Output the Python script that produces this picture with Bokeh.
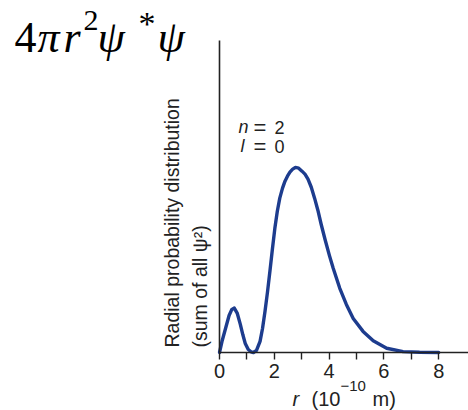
import math

from bokeh.core.properties import value
from bokeh.embed import file_html
from bokeh.models import ColumnDataSource, FixedTicker, LinearAxis, Range1d
from bokeh.plotting import figure
from bokeh.resources import INLINE

# Radial distance r (units of 1e-10 m) and relative radial probability (peak = 1)
r_values = [
    0.0, 0.1, 0.22, 0.35, 0.45, 0.54, 0.65, 0.76, 0.85, 0.94, 1.05, 1.15, 1.24,
    1.35, 1.48, 1.57, 1.66, 1.75, 1.84, 1.93, 2.02, 2.11, 2.2, 2.3, 2.39, 2.48,
    2.57, 2.67, 2.77, 2.89, 3.01, 3.12, 3.23, 3.35, 3.47, 3.59, 3.71, 3.85, 4.01,
    4.15, 4.39, 4.63, 4.88, 5.24, 5.61, 6.1, 6.7, 7.3, 8.0,
]
probability = [
    0.0, 0.065, 0.130, 0.200, 0.233, 0.240, 0.211, 0.152, 0.097, 0.049, 0.016,
    0.004, 0.0, 0.011, 0.060, 0.130, 0.222, 0.325, 0.439, 0.558, 0.671, 0.763,
    0.834, 0.888, 0.926, 0.953, 0.975, 0.991, 1.000, 0.996, 0.980, 0.964, 0.937,
    0.893, 0.834, 0.769, 0.693, 0.612, 0.525, 0.455, 0.347, 0.260, 0.184, 0.114,
    0.063, 0.023, 0.005, 0.001, 0.0,
]
major_ticks = [0, 2, 4, 6, 8]
minor_ticks = [1, 3, 5, 7]

W, H = 468, 410
# canvas pixel of the data origin and pixel scale of each axis
ORIGIN_PX, ORIGIN_PY = 219.0, 352.0
PX_PER_X = 27.4
Y_TOP = 1.686                       # value at the top of the y axis line
AXIS_TOP_PY = 40.0
PX_PER_Y = (ORIGIN_PY - AXIS_TOP_PY) / Y_TOP
X_AXIS_END = (W - ORIGIN_PX) / PX_PER_X
# the svg text ends up roughly centred on its anchor; this moves the anchor
# so that the given pixel is where the glyph baseline lands
BASELINE_SHIFT = 0.34

SANS = "Liberation Sans"
SERIF = "Liberation Serif"
INK = "#222222"
CURVE = "#1d3c8e"


def dx(px):
    """Canvas pixel x -> data x."""
    return (px - ORIGIN_PX) / PX_PER_X


def dy(py):
    """Canvas pixel y -> data y."""
    return (ORIGIN_PY - py) / PX_PER_Y


# the frame fills the whole canvas; the axes sit at the data origin
p = figure(
    width=W, height=H,
    x_range=Range1d(dx(0), dx(W)), y_range=Range1d(dy(H), dy(0)),
    output_backend="svg", toolbar_location=None,
    x_axis_location=None, y_axis_location=None,
    min_border=0,
)
p.outline_line_color = None
p.grid.visible = False
p.background_fill_color = "white"
p.border_fill_color = "white"

src = ColumnDataSource(dict(r=r_values, p=probability))
p.line("r", "p", source=src, line_color=CURVE, line_width=3.4,
       line_join="round", line_cap="round")

# x axis: numbered every 2, small ticks in between
xa = LinearAxis(fixed_location=0, bounds=(0, X_AXIS_END))
xa.ticker = FixedTicker(ticks=major_ticks, minor_ticks=minor_ticks)
xa.axis_line_color = INK
xa.axis_line_width = 1.6
xa.major_tick_line_color = INK
xa.minor_tick_line_color = INK
xa.major_tick_line_width = 1.4
xa.minor_tick_line_width = 1.4
xa.major_tick_out = 7
xa.major_tick_in = 0
xa.minor_tick_out = 7
xa.minor_tick_in = 0
xa.major_label_text_font = SANS
xa.major_label_text_font_size = "20px"
xa.major_label_text_color = INK
xa.major_label_standoff = 4
p.add_layout(xa, "below")

# y axis: bare line only
ya = LinearAxis(fixed_location=0, bounds=(0, Y_TOP))
ya.ticker = FixedTicker(ticks=[])
ya.axis_line_color = INK
ya.axis_line_width = 1.6
ya.major_tick_out = 0
ya.minor_tick_out = 0
ya.major_label_text_font_size = "0px"
p.add_layout(ya, "left")


def add_text(text, px, py, size, font=SANS, style="normal", angle=0.0, color=INK):
    """Place text so its baseline starts at canvas pixel (px, py)."""
    shift = BASELINE_SHIFT * size
    if angle == 0.0:
        py -= shift
    else:
        px -= shift
    p.text(
        x=[dx(px)], y=[dy(py)], text=[text], angle=angle,
        text_font=value(font), text_font_size=value(f"{size}px"),
        text_font_style=style, text_color=color,
        text_align="left", text_baseline="alphabetic",
    )


# 4 pi r^2 psi* psi
add_text("4", 14, 52, 44, SERIF, color="black")
add_text("π", 37, 52, 44, SERIF, "italic", color="black")
add_text("r", 63, 52, 44, SERIF, "italic", color="black")
add_text("2", 83, 30, 30, SERIF, color="black")
add_text("ψ", 97, 52, 44, SERIF, "italic", color="black")
add_text("*", 138, 35, 34, SERIF, color="black")
add_text("ψ", 157, 52, 44, SERIF, "italic", color="black")

# quantum numbers
add_text("n", 238, 133, 18, style="italic")
add_text("=", 253, 134, 22)
add_text("2", 274, 133, 18)
add_text("l", 240, 152, 18, style="italic")
add_text("=", 253, 153, 22)
add_text("0", 274, 152, 18)

# y axis title (two rotated lines)
add_text("Radial probability distribution", 178.5, 347, 19.5, angle=math.pi / 2)
add_text("(sum of all ψ²)", 206, 347, 19.5, angle=math.pi / 2)

# x axis title
add_text("r", 292, 405, 20, style="italic")
add_text("(10", 311, 405, 20)
add_text("−10", 340, 391, 15)
add_text("m)", 372, 405, 20)

open("out.html", "w").write(file_html(p, INLINE))
